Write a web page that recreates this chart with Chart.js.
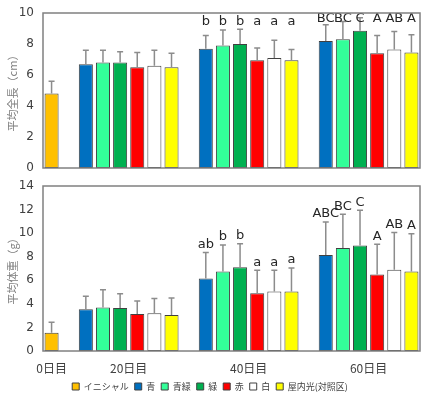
<!DOCTYPE html>
<html>
<head>
<meta charset="utf-8">
<script src="https://cdn.jsdelivr.net/npm/chart.js@4.4.0/dist/chart.umd.min.js"></script>
<style>
  body { margin: 0; background: #fff; }
  #wrap { position: relative; width: 430px; height: 399px; }
  #lengthCanv { position: absolute; left: 0; top: 0; }
  #weightCanv { position: absolute; left: 0; top: 175px; }
</style>
</head>
<body>
<div id="wrap">
  <canvas id="lengthCanv" width="430" height="175"></canvas>
  <canvas id="weightCanv" width="430" height="224"></canvas>
</div>
<script>
const days = ['0日目', '20日目', '40日目', '60日目'];
const initialLabel = 'イニシャル';
const treatments = ['青', '青緑', '緑', '赤', '白', '屋内光(対照区)'];
const colors = ['#FFC000', '#0070C0', '#33FF99', '#00B050', '#FF0000', '#FFFFFF', '#FFFF00'];

// 平均全長 (cm)
const lengthInitial = 4.8;
const lengthInitialErr = 0.8;
const length20 = [6.7, 6.8, 6.8, 6.5, 6.6, 6.5];
const length20Err = [0.9, 0.8, 0.7, 0.95, 1.0, 0.9];
const length40 = [7.7, 7.9, 8.0, 6.95, 7.1, 6.95];
const length40Err = [0.85, 1.0, 0.95, 0.8, 1.15, 0.7];
const length60 = [8.2, 8.3, 8.85, 7.4, 7.65, 7.45];
const length60Err = [1.05, 1.15, 0.85, 1.15, 1.15, 1.15];
const length40Letters = ['b', 'b', 'b', 'a', 'a', 'a'];
const length60Letters = ['BC', 'BC', 'C', 'A', 'AB', 'A'];

// 平均体重 (g)
const weightInitial = 1.55;
const weightInitialErr = 0.9;
const weight20 = [3.55, 3.7, 3.65, 3.15, 3.2, 3.05];
const weight20Err = [1.1, 1.5, 1.2, 1.1, 1.25, 1.45];
const weight40 = [6.15, 6.75, 7.1, 4.9, 5.05, 5.05];
const weight40Err = [2.2, 2.25, 2.0, 1.95, 1.8, 2.0];
const weight60 = [8.15, 8.75, 8.95, 6.5, 6.9, 6.75];
const weight60Err = [2.8, 2.85, 3.0, 2.55, 3.15, 3.2];
const weight40Letters = ['ab', 'b', 'b', 'a', 'a', 'a'];
const weight60Letters = ['ABC', 'BC', 'C', 'A', 'AB', 'A'];

// slot layout: initial bar, gap, then 6 bars per day with one empty slot between days
const perGroup = treatments.length + 1;
const nSlots = 1 + 3 * perGroup;
const slotOf = (g, s) => 1 + g * perGroup + 1 + s;

const font = '"DejaVu Sans", "Noto Sans CJK JP", sans-serif';
const jpFont = '"Noto Sans CJK JP", sans-serif';

function buildDatasets(initVal, initErr, vals, errs) {
  const sets = [];
  const d0 = Array(nSlots).fill(null);
  const e0 = Array(nSlots).fill(null);
  d0[0] = initVal; e0[0] = initErr;
  sets.push({ label: initialLabel, data: d0, err: e0, backgroundColor: colors[0] });
  treatments.forEach((t, s) => {
    const d = Array(nSlots).fill(null);
    const e = Array(nSlots).fill(null);
    vals.forEach((v, g) => { d[slotOf(g, s)] = v[s]; e[slotOf(g, s)] = errs[g][s]; });
    sets.push({ label: t, data: d, err: e, backgroundColor: colors[s + 1] });
  });
  sets.forEach(ds => {
    ds.borderColor = '#404040';
    ds.borderWidth = 1;
    ds.borderSkipped = false;
    ds.barPercentage = 0.82;
    ds.categoryPercentage = 1;
    ds.grouped = false;
  });
  return sets;
}

const errorBars = {
  id: 'errorBars',
  afterDatasetsDraw(chart, args, opts) {
    const ctx = chart.ctx;
    const y = chart.scales.y;
    const area = chart.chartArea;
    const tops = {};
    ctx.save();
    ctx.strokeStyle = '#8c8c8c';
    ctx.lineWidth = 1.5;
    chart.data.datasets.forEach((ds, i) => {
      chart.getDatasetMeta(i).data.forEach((bar, j) => {
        if (ds.data[j] == null) return;
        const top = y.getPixelForValue(ds.data[j] + ds.err[j]);
        tops[j] = { x: bar.x, top: top };
        ctx.beginPath();
        ctx.moveTo(bar.x, bar.y);
        ctx.lineTo(bar.x, top);
        ctx.moveTo(bar.x - 3, top);
        ctx.lineTo(bar.x + 3, top);
        ctx.stroke();
      });
    });
    // significance letters
    ctx.fillStyle = '#262626';
    ctx.font = '13px ' + font;
    ctx.textAlign = 'center';
    ctx.textBaseline = 'middle';
    (opts.letters || []).forEach((letters, g) => {
      if (!letters) return;
      const slots = letters.map((l, s) => tops[slotOf(g, s)]);
      const groupTop = Math.min(...slots.map(p => p.top));
      letters.forEach((l, s) => {
        const p = slots[s];
        let ty = (opts.align === 'group' ? groupTop : p.top) - 8;
        ty = Math.max(ty, area.top + 6);
        ctx.fillText(l, p.x, ty);
      });
    });
    // day labels centred under the drawn bars of each day
    if (opts.dayLabels) {
      const centers = [tops[0].x];
      [0, 1, 2].forEach(g => {
        const first = tops[slotOf(g, 0)].x;
        const last = tops[slotOf(g, treatments.length - 1)].x;
        centers.push((first + last) / 2);
      });
      ctx.fillStyle = '#404040';
      ctx.font = '12px ' + jpFont;
      ctx.textAlign = 'left';
      days.forEach((d, i) => {
        const w = ctx.measureText(d).width;
        ctx.fillText(d, centers[i] - w / 2, area.bottom + 17);
      });
    }
    // plot frame
    ctx.strokeStyle = '#808080';
    ctx.lineWidth = 1.5;
    ctx.strokeRect(area.left, area.top, area.right - area.left, area.bottom - area.top);
    ctx.restore();
  }
};

function makeChart(id, datasets, yMax, yTitle, letters, align, showBottom) {
  return new Chart(document.getElementById(id).getContext('2d'), {
    type: 'bar',
    data: { labels: Array(nSlots).fill(''), datasets: datasets },
    options: {
      responsive: false,
      animation: false,
      layout: { padding: showBottom ? { top: 11, right: 10, bottom: 0, left: 0 } : { top: 13, right: 10, bottom: 7, left: 0 } },
      scales: {
        x: {
          display: showBottom,
          offset: true,
          grid: { display: false, drawTicks: false },
          border: { display: false },
          ticks: { display: false },
          afterFit: (s) => { if (showBottom) s.height = 25; },
        },
        y: {
          min: 0,
          max: yMax,
          afterFit: (s) => { s.width = 43; s.paddingTop = 0; s.paddingBottom = 0; },
          grid: { display: false, drawTicks: false },
          border: { display: false },
          ticks: { stepSize: 2, padding: 9, color: '#404040', font: { family: font, size: 12 } },
          title: {
            display: true,
            text: yTitle,
            color: '#7f7f7f',
            padding: { top: 6, bottom: 0 },
            font: { family: jpFont, size: 11 },
          },
        },
      },
      plugins: {
        legend: {
          display: showBottom,
          position: 'bottom',
          maxHeight: 23,
          labels: {
            boxWidth: 7,
            boxHeight: 7,
            padding: 6,
            color: '#404040',
            font: { family: jpFont, size: 9 },
          },
        },
        tooltip: { enabled: false },
        errorBars: { letters: letters, align: align, dayLabels: showBottom },
      },
    },
    plugins: [errorBars],
  });
}

makeChart('lengthCanv',
  buildDatasets(lengthInitial, lengthInitialErr, [length20, length40, length60], [length20Err, length40Err, length60Err]),
  10, '平均全長（cm）', [null, length40Letters, length60Letters], 'group', false);

makeChart('weightCanv',
  buildDatasets(weightInitial, weightInitialErr, [weight20, weight40, weight60], [weight20Err, weight40Err, weight60Err]),
  14, '平均体重（g）', [null, weight40Letters, weight60Letters], 'bar', true);
</script>
</body>
</html>
